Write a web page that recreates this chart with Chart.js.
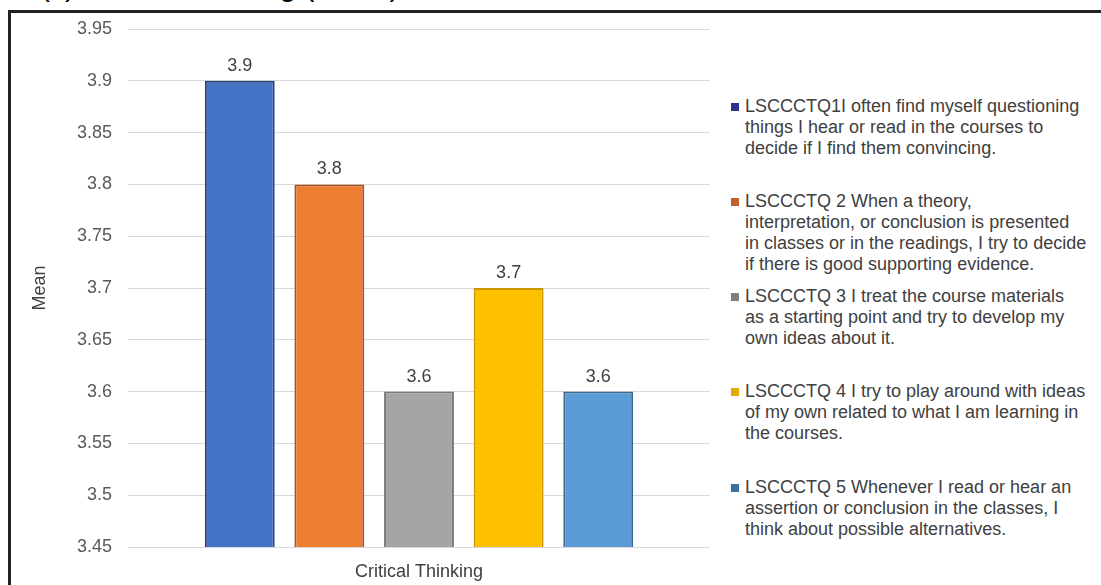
<!DOCTYPE html>
<html>
<head>
<meta charset="utf-8">
<script src="https://cdn.jsdelivr.net/npm/chart.js@4.4.1/dist/chart.umd.min.js"></script>
<style>
  body { margin: 0; background: #fff; width: 1101px; height: 585px; overflow: hidden; position: relative; font-family: "Liberation Sans", Arial, sans-serif; }
  #topTitle { position: absolute; left: 0; top: 0; width: 1101px; height: 10px; overflow: hidden; }
  #topTitle span { position: absolute; left: 40px; top: -29px; font-size: 30px; line-height: 30px; color: #000; white-space: nowrap; }
  #frame { position: absolute; left: 8px; top: 10px; width: 1200px; height: 700px; border: 3px solid #222; box-sizing: border-box; }
  #chartWrap { position: absolute; left: 0; top: 0; width: 720px; height: 585px; }
  #legend { position: absolute; left: 0; top: 0; }
  .item { position: absolute; left: 731px; width: 370px; }
  .item .box { position: absolute; left: 0; top: 7px; width: 8px; height: 8px; }
  .item .txt { position: absolute; left: 14px; top: 0; font-size: 18px; line-height: 21px; color: #404040; white-space: nowrap; }
</style>
</head>
<body>
<div id="topTitle"><span>(c) Critical Thinking (Mean)</span></div>
<div id="frame"></div>
<div id="chartWrap"><canvas id="chartjs" width="720" height="585"></canvas></div>
<div id="legend"></div>
<script>
/*==== data ====*/
const categories = ['Critical Thinking'];

const seriesNames = [
    ['LSCCCTQ1I often find myself questioning', 'things I hear or read in the courses to', 'decide if I find them convincing.'],
    ['LSCCCTQ 2 When a theory,', 'interpretation, or conclusion is presented', 'in classes or in the readings, I try to decide', 'if there is good supporting evidence.'],
    ['LSCCCTQ 3 I treat the course materials', 'as a starting point and try to develop my', 'own ideas about it.'],
    ['LSCCCTQ 4 I try to play around with ideas', 'of my own related to what I am learning in', 'the courses.'],
    ['LSCCCTQ 5 Whenever I read or hear an', 'assertion or conclusion in the classes, I', 'think about possible alternatives.']
];

const meanValues = [3.9, 3.8, 3.6, 3.7, 3.6];

const yMin = 3.45;
const yMax = 3.95;
const yStep = 0.05;

const barColors = [
    '#4472c4', //blue
    '#ed7d31', //orange
    '#a5a5a5', //grey
    '#ffc000', //gold
    '#5b9bd5'  //light blue
];
const borderColors = ['#26407a', '#a5551f', '#7a7a7a', '#c99800', '#3a6894'];
const markerColors = ['#2b3590', '#c0622a', '#7f7f7f', '#e0a800', '#3b6fa0'];

const FONT = "'Liberation Sans', Arial, sans-serif";

/*==== datasets ====*/
var datasets = [];
for (var i = 0; i < meanValues.length; i++) {
    datasets.push({
        label: seriesNames[i].join(' '),
        data: [meanValues[i]],
        backgroundColor: barColors[i],
        borderColor: borderColors[i],
        borderWidth: 2,
        categoryPercentage: 0.77,
        barPercentage: 0.78
    });
}

/*==== value labels above bars ====*/
const valueLabels = {
    id: 'valueLabels',
    afterDatasetsDraw(chart) {
        const ctx = chart.ctx;
        ctx.save();
        ctx.font = '18px ' + FONT;
        ctx.fillStyle = '#404040';
        ctx.textAlign = 'center';
        ctx.textBaseline = 'alphabetic';
        chart.data.datasets.forEach(function (ds, di) {
            const meta = chart.getDatasetMeta(di);
            meta.data.forEach(function (bar, j) {
                ctx.fillText(String(ds.data[j]), bar.x, bar.y - 10);
            });
        });
        ctx.restore();
    }
};

/*==== config ====*/
var config = {
    type: 'bar',
    data: { labels: categories, datasets: datasets },
    options: {
        responsive: false,
        animation: false,
        layout: { padding: { left: 29, right: 10, top: 29, bottom: 0 } },
        plugins: {
            legend: { display: false },
            tooltip: { enabled: false }
        },
        scales: {
            x: {
                grid: { display: false, drawTicks: false },
                border: { display: false },
                ticks: { color: '#404040', font: { family: FONT, size: 18 }, padding: 14 },
                afterFit: function (scale) { scale.height = 38; }
            },
            y: {
                min: yMin,
                max: yMax,
                grid: { color: '#d9d9d9', lineWidth: 1, drawTicks: false },
                border: { display: false },
                ticks: {
                    stepSize: yStep,
                    color: '#595959',
                    font: { family: FONT, size: 18 },
                    padding: 16,
                    callback: function (v) { return String(Number(v.toFixed(2))); }
                },
                title: {
                    display: true,
                    text: 'Mean',
                    color: '#404040',
                    font: { family: FONT, size: 18 },
                    padding: 0
                },
                afterFit: function (scale) { scale.width = 99; }
            }
        }
    },
    plugins: [valueLabels]
};

var barChart = new Chart(document.querySelector('#chartjs'), config);

/*==== html legend ====*/
var legendEl = document.getElementById('legend');
for (var k = 0; k < seriesNames.length; k++) {
    var item = document.createElement('div');
    item.className = 'item';
    item.style.top = Math.round(95.5 + k * 95.3) + 'px';
    var box = document.createElement('div');
    box.className = 'box';
    box.style.background = markerColors[k];
    var txt = document.createElement('div');
    txt.className = 'txt';
    txt.innerHTML = seriesNames[k].join('<br>');
    item.appendChild(box);
    item.appendChild(txt);
    legendEl.appendChild(item);
}
</script>
</body>
</html>
